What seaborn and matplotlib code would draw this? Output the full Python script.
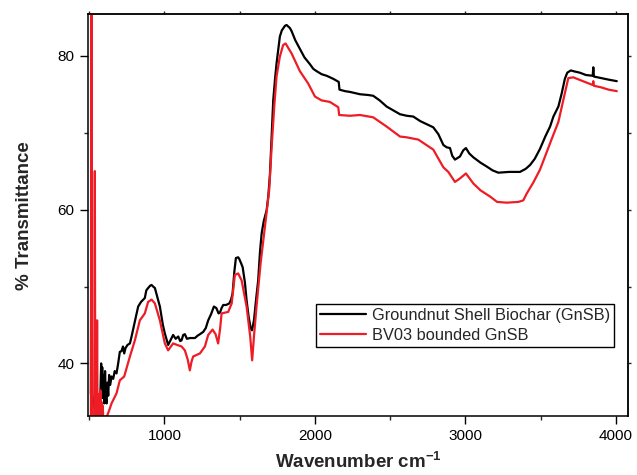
import numpy as np
import pandas as pd
import matplotlib
matplotlib.use("Agg")
import matplotlib.pyplot as plt
import seaborn as sns
from matplotlib.ticker import MultipleLocator

# FTIR spectra: wavenumber (cm^-1) and % transmittance
gnsb_wn = [512, 516, 519, 540, 560, 575, 580, 583, 587, 591, 596, 600, 606, 611, 616,
           621, 627, 633, 640, 649, 660, 670, 682, 693, 704, 715, 725, 733, 742, 755,
           771, 782, 793, 810, 826, 845, 870, 880, 892, 905, 915, 925, 937, 955, 970,
           990, 1003, 1025, 1040, 1058, 1075, 1092, 1105, 1114, 1125, 1136, 1150, 1169,
           1185, 1203, 1220, 1236, 1258, 1275, 1291, 1310, 1329, 1345, 1360, 1369, 1380,
           1391, 1410, 1431, 1443, 1453, 1465, 1475, 1490, 1497, 1510, 1520, 1535, 1546,
           1560, 1573, 1582, 1595, 1610, 1623, 1635, 1646, 1660, 1679, 1690, 1701, 1712,
           1723, 1735, 1745, 1767, 1780, 1801, 1812, 1834, 1845, 1870, 1900, 1930, 1967,
           1989, 2011, 2045, 2078, 2100, 2122, 2140, 2158, 2163, 2200, 2233, 2299, 2354,
           2387, 2430, 2476, 2520, 2565, 2610, 2653, 2700, 2786, 2820, 2853, 2875, 2897,
           2912, 2930, 2963, 2985, 3003, 3025, 3052, 3100, 3141, 3180, 3218, 3290, 3362,
           3400, 3429, 3460, 3495, 3530, 3562, 3584, 3617, 3639, 3660, 3676, 3700, 3716,
           3760, 3800, 3845, 3849, 3853, 3900, 3950, 4005]
gnsb_t = [36.0, 76.0, 36.0, 34.0, 35.0, 36.0, 40.0, 36.0, 39.5, 35.5, 38.5, 34.8, 39.0,
          35.5, 34.8, 37.5, 35.8, 38.5, 37.2, 38.3, 38.0, 39.0, 38.7, 40.0, 41.5, 41.6,
          42.2, 41.3, 42.0, 42.4, 42.6, 43.5, 44.5, 46.0, 47.4, 48.0, 48.5, 49.5, 49.8,
          50.1, 50.2, 50.0, 49.8, 48.5, 47.4, 45.0, 43.9, 42.4, 43.0, 43.7, 43.2, 43.5,
          42.9, 43.0, 43.7, 43.8, 43.2, 43.3, 43.3, 43.3, 43.6, 43.8, 44.1, 44.6, 45.6,
          46.4, 47.4, 47.2, 46.5, 46.6, 47.2, 47.6, 47.6, 47.8, 48.3, 49.1, 52.0, 53.7,
          53.8, 53.6, 53.0, 52.5, 50.5, 48.2, 46.0, 44.6, 44.3, 45.6, 48.5, 50.8, 54.5,
          56.9, 58.5, 59.9, 61.7, 64.5, 69.5, 74.2, 77.0, 79.0, 82.5, 83.3, 83.9, 84.0,
          83.6, 83.2, 82.0, 80.9, 79.8, 78.9, 78.3, 78.0, 77.6, 77.4, 77.2, 77.0, 76.8,
          76.6, 75.6, 75.4, 75.3, 75.0, 74.9, 74.8, 74.2, 73.4, 72.9, 72.4, 72.2, 72.1,
          71.5, 70.7, 69.8, 68.4, 68.1, 68.0, 67.0, 66.5, 66.9, 67.7, 68.0, 67.3, 66.8,
          66.1, 65.6, 65.1, 64.8, 64.9, 64.9, 65.3, 65.8, 66.6, 67.9, 69.5, 70.8, 72.1,
          73.4, 75.1, 77.0, 77.8, 78.1, 78.0, 77.8, 77.5, 77.4, 78.5, 77.3, 77.1, 76.9,
          76.7]

bv03_wn = [512, 516, 519, 534, 538, 541, 550, 553, 556, 560, 563, 567, 570, 575, 578,
           582, 585, 590, 594, 600, 620, 635, 649, 682, 704, 733, 771, 804, 837, 870,
           892, 915, 937, 970, 1003, 1025, 1058, 1085, 1114, 1136, 1155, 1169, 1180,
           1191, 1236, 1269, 1291, 1320, 1340, 1357, 1370, 1380, 1424, 1447, 1468, 1490,
           1513, 1546, 1570, 1583, 1595, 1612, 1639, 1668, 1696, 1712, 1730, 1745, 1767,
           1789, 1805, 1845, 1900, 1955, 2000, 2044, 2099, 2148, 2155, 2161, 2233, 2299,
           2387, 2476, 2565, 2609, 2687, 2786, 2853, 2886, 2930, 2960, 3003, 3052, 3100,
           3163, 3210, 3274, 3351, 3384, 3407, 3450, 3495, 3540, 3573, 3617, 3655, 3683,
           3716, 3780, 3845, 3849, 3853, 3900, 3950, 4005]
bv03_t = [33.0, 95.0, 33.0, 33.0, 65.0, 33.0, 33.0, 45.6, 33.0, 36.0, 33.0, 35.5, 33.0,
          36.5, 33.0, 35.0, 33.0, 34.5, 33.0, 33.0, 33.2, 34.0, 34.8, 36.1, 37.8, 38.3,
          40.9, 43.0, 45.6, 46.5, 48.0, 48.3, 47.8, 45.6, 42.6, 41.7, 42.6, 42.4, 42.2,
          41.7, 40.5, 39.1, 40.2, 40.9, 41.3, 42.2, 43.7, 44.4, 43.8, 42.6, 44.5, 46.5,
          46.7, 47.8, 51.5, 51.7, 50.8, 47.4, 43.5, 40.4, 43.5, 47.4, 53.0, 57.8, 62.5,
          68.0, 73.5, 77.3, 79.9, 81.4, 81.6, 80.3, 78.0, 76.4, 74.7, 74.2, 74.0, 73.4,
          73.3, 72.3, 72.2, 72.3, 72.0, 70.8, 69.5, 69.4, 69.1, 67.8, 65.5, 64.9, 63.6,
          64.0, 64.7, 63.4, 62.5, 61.7, 61.0, 60.9, 61.0, 61.2, 62.1, 63.5, 65.2, 67.5,
          69.2, 71.4, 74.7, 77.1, 77.2, 76.7, 76.2, 76.7, 76.1, 75.9, 75.6, 75.4]

labels = ["Groundnut Shell Biochar (GnSB)", "BV03 bounded GnSB"]
colors = ["#000000", "#ee1c25"]

df = pd.concat([
    pd.DataFrame({"Wavenumber": gnsb_wn, "Transmittance": gnsb_t, "Sample": labels[0]}),
    pd.DataFrame({"Wavenumber": bv03_wn, "Transmittance": bv03_t, "Sample": labels[1]}),
], ignore_index=True)

sns.set_style("ticks")
plt.rcParams["font.family"] = ["Liberation Sans", "DejaVu Sans"]
plt.rcParams["mathtext.fontset"] = "custom"
plt.rcParams["mathtext.rm"] = "Liberation Sans"
plt.rcParams["mathtext.bf"] = "Liberation Sans:bold"

fig = plt.figure(figsize=(6.37, 4.75), dpi=100)
ax = fig.add_axes([0.138, 0.124, 0.848, 0.846])

sns.lineplot(data=df, x="Wavenumber", y="Transmittance", hue="Sample",
             hue_order=labels, palette=colors, sort=False, estimator=None,
             linewidth=1.6, ax=ax)

ax.set_xlim(492, 4080)
ax.set_ylim(33.15, 85.4)
ax.xaxis.set_major_locator(MultipleLocator(1000))
ax.xaxis.set_minor_locator(MultipleLocator(500))
ax.yaxis.set_major_locator(MultipleLocator(20))
ax.yaxis.set_minor_locator(MultipleLocator(10))

for s in ax.spines.values():
    s.set_visible(True)
    s.set_linewidth(1.1)
    s.set_color("black")

ax.tick_params(which="major", direction="out", length=5.5, width=1.0,
               labelsize=11, colors="black", pad=4)
ax.tick_params(which="minor", direction="out", length=3, width=1.0)

# short unlabeled ticks on the top and right frame edges
top = ax.secondary_xaxis("top")
top.xaxis.set_major_locator(MultipleLocator(500))
top.tick_params(direction="out", length=2, width=1.0, labeltop=False)
top.spines["top"].set_linewidth(1.1)
right = ax.secondary_yaxis("right")
right.yaxis.set_major_locator(MultipleLocator(10))
right.tick_params(direction="out", length=2, width=1.0, labelright=False)
right.spines["right"].set_linewidth(1.1)

ax.set_xlabel(r"Wavenumber cm$^{\mathbf{-1}}$", fontsize=13.5, fontweight="bold", labelpad=6)
ax.set_ylabel("% Transmittance", fontsize=13.5, fontweight="bold", labelpad=18)

leg = ax.legend(loc="upper left", bbox_to_anchor=(0.422, 0.279), frameon=True,
                fancybox=False, shadow=False, fontsize=11.8, handlelength=2.8,
                handletextpad=0.35, borderpad=0.25, labelspacing=0.3,
                borderaxespad=0)
leg.get_frame().set_edgecolor("black")
leg.get_frame().set_linewidth(1.0)
leg.get_frame().set_alpha(1)

fig.savefig("out.png", dpi=100)
